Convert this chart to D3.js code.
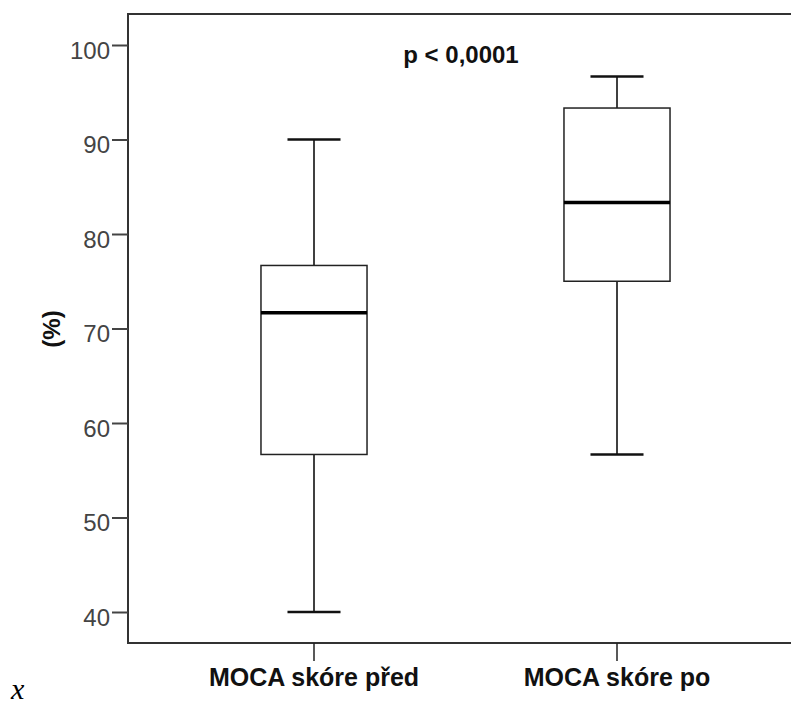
<!DOCTYPE html>
<html>
<head>
<meta charset="utf-8">
<script src="https://cdn.jsdelivr.net/npm/d3@7"></script>
<style>
  body { margin: 0; background: #fff; }
  svg { display: block; }
</style>
</head>
<body>
<div id="chart"></div>
<script>
const width = 791;
const height = 705;

// data (MoCA score in %)
const categories = ["MOCA skóre před", "MOCA skóre po"];
const whiskerLow = [40, 56.67];
const q1 = [56.67, 75];
const medians = [71.67, 83.33];
const q3 = [76.67, 93.33];
const whiskerHigh = [90, 96.67];
const yTicks = [40, 50, 60, 70, 80, 90, 100];
const pLabel = "p < 0,0001";
const yLabel = "(%)";

// plot frame
const frameLeft = 128, frameTop = 14, frameBottom = 643;

const svg = d3.select("#chart").append("svg")
  .attr("width", width)
  .attr("height", height);

const y = d3.scaleLinear()
  .domain([36.72, 103.28])
  .range([frameBottom, frameTop]);

const x = d3.scaleBand()
  .domain(categories)
  .range([162.5, 768.5])
  .paddingInner(0.65)
  .paddingOuter(0.325);

const bw = x.bandwidth();
const capW = bw * 0.5;

const boxes = categories.map((c, i) => ({
  cat: c, lo: whiskerLow[i], q1: q1[i], med: medians[i], q3: q3[i], hi: whiskerHigh[i]
}));

// frame lines (open on the right)
svg.append("path")
  .attr("d", `M${width},${frameTop}H${frameLeft}V${frameBottom}H${width}`)
  .attr("fill", "none")
  .attr("stroke", "#333")
  .attr("stroke-width", 2);

// y axis
const yAxis = svg.append("g")
  .attr("transform", `translate(${frameLeft},0)`)
  .call(d3.axisLeft(y).tickValues(yTicks).tickSize(16).tickSizeOuter(0).tickPadding(2));
yAxis.select(".domain").remove();
yAxis.selectAll(".tick line").attr("stroke", "#444").attr("stroke-width", 2);
yAxis.selectAll(".tick text")
  .attr("fill", "#444")
  .attr("dy", "0.55em")
  .style("font-family", "Arial, 'Liberation Sans', sans-serif")
  .style("font-size", "24px");

// x axis
const xAxis = svg.append("g")
  .attr("transform", `translate(0,${frameBottom})`)
  .call(d3.axisBottom(x).tickSize(18).tickSizeOuter(0).tickPadding(7));
xAxis.select(".domain").remove();
xAxis.selectAll(".tick line").attr("stroke", "#222").attr("stroke-width", 1.5);
xAxis.selectAll(".tick text")
  .attr("fill", "#111")
  .attr("dy", "0.71em")
  .style("font-family", "Arial, 'Liberation Sans', sans-serif")
  .style("font-size", "25px")
  .style("font-weight", "bold");

// boxes
const g = svg.selectAll(".box")
  .data(boxes)
  .enter()
  .append("g")
  .attr("class", "box");

g.append("line")
  .attr("x1", d => x(d.cat) + bw / 2)
  .attr("x2", d => x(d.cat) + bw / 2)
  .attr("y1", d => y(d.hi))
  .attr("y2", d => y(d.q3))
  .attr("stroke", "#000").attr("stroke-width", 1.5);

g.append("line")
  .attr("x1", d => x(d.cat) + bw / 2)
  .attr("x2", d => x(d.cat) + bw / 2)
  .attr("y1", d => y(d.q1))
  .attr("y2", d => y(d.lo))
  .attr("stroke", "#000").attr("stroke-width", 1.5);

g.append("line")
  .attr("x1", d => x(d.cat) + bw / 2 - capW / 2)
  .attr("x2", d => x(d.cat) + bw / 2 + capW / 2)
  .attr("y1", d => y(d.hi))
  .attr("y2", d => y(d.hi))
  .attr("stroke", "#111").attr("stroke-width", 2.5);

g.append("line")
  .attr("x1", d => x(d.cat) + bw / 2 - capW / 2)
  .attr("x2", d => x(d.cat) + bw / 2 + capW / 2)
  .attr("y1", d => y(d.lo))
  .attr("y2", d => y(d.lo))
  .attr("stroke", "#111").attr("stroke-width", 2.5);

g.append("rect")
  .attr("x", d => x(d.cat))
  .attr("y", d => y(d.q3))
  .attr("width", bw)
  .attr("height", d => y(d.q1) - y(d.q3))
  .attr("fill", "#fff")
  .attr("stroke", "#222")
  .attr("stroke-width", 1.5);

g.append("line")
  .attr("x1", d => x(d.cat))
  .attr("x2", d => x(d.cat) + bw)
  .attr("y1", d => y(d.med))
  .attr("y2", d => y(d.med))
  .attr("stroke", "#000").attr("stroke-width", 3.5);

// annotation
svg.append("text")
  .attr("x", 461)
  .attr("y", 63)
  .attr("text-anchor", "middle")
  .style("font-family", "Arial, 'Liberation Sans', sans-serif")
  .style("font-size", "24px")
  .style("font-weight", "bold")
  .attr("fill", "#111")
  .text(pLabel);

// y label
svg.append("text")
  .attr("transform", `translate(60,329) rotate(-90)`)
  .attr("text-anchor", "middle")
  .style("font-family", "Arial, 'Liberation Sans', sans-serif")
  .style("font-size", "24px")
  .style("font-weight", "bold")
  .attr("fill", "#111")
  .text(yLabel);

// stray x in the corner
svg.append("text")
  .attr("x", 11)
  .attr("y", 699)
  .style("font-family", "'Liberation Serif', 'DejaVu Serif', serif")
  .style("font-style", "italic")
  .style("font-size", "30px")
  .attr("fill", "#000")
  .text("x");
</script>
</body>
</html>
